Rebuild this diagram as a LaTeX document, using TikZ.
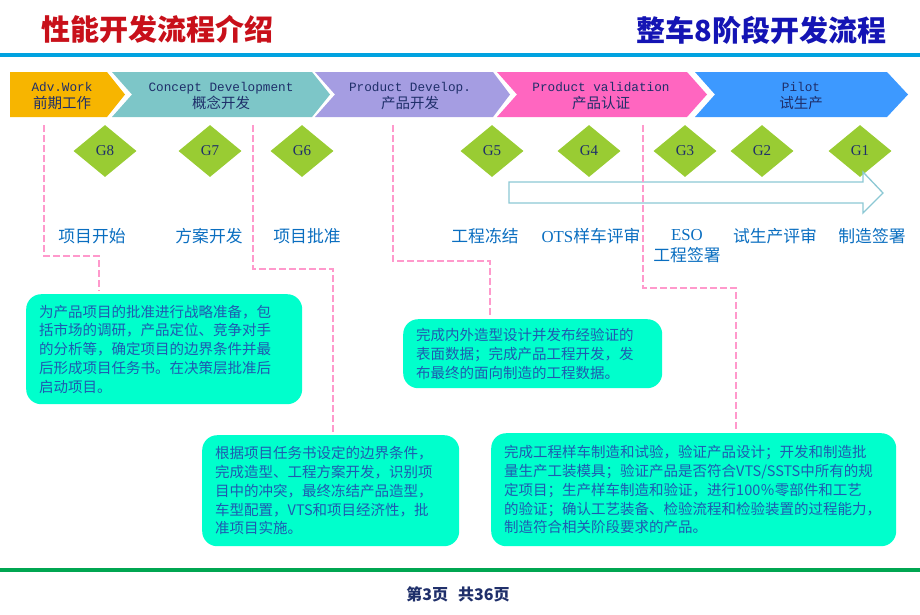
\documentclass[tikz,border=0pt]{standalone}
\usepackage{fontspec}
\setmainfont{Liberation Serif}
\setmonofont{Liberation Mono}
\newfontfamily\cjk{Noto Sans CJK SC}
\usetikzlibrary{shapes.geometric}

\definecolor{titlered}{HTML}{C8101A}
\definecolor{titleblue}{HTML}{1414B4}
\definecolor{lineblue}{HTML}{00A2E0}
\definecolor{linegreen}{HTML}{00A651}
\definecolor{advorange}{HTML}{F7B500}
\definecolor{conceptteal}{HTML}{7DC6C8}
\definecolor{devlilac}{HTML}{A59DE2}
\definecolor{validpink}{HTML}{FF66C0}
\definecolor{pilotblue}{HTML}{3D99FF}
\definecolor{gategreen}{HTML}{99CC33}
\definecolor{navy}{HTML}{1F2F6A}
\definecolor{mileblue}{HTML}{0A6EC0}
\definecolor{guidepink}{HTML}{FF99CC}
\definecolor{boxcyan}{HTML}{00FFCC}
\definecolor{boxtext}{HTML}{1F5AB0}
\definecolor{arrowblue}{HTML}{8CC8D4}

\begin{document}
\begin{tikzpicture}[x=1pt,y=-1pt,
  phase/.style={align=center,text=navy,font=\fontsize{12.7}{17.5}\selectfont\ttfamily},
  gate/.style={diamond,fill=gategreen,minimum width=63pt,minimum height=52pt,inner sep=0pt,text=navy,font=\fontsize{15}{15}\selectfont},
  mile/.style={text=mileblue,align=center,font=\fontsize{16.8}{21}\selectfont\cjk},
  guide/.style={draw=guidepink,line width=2.5pt,dash pattern=on 7pt off 3pt,shorten >=3pt},
  descbox/.style={anchor=north west,fill=boxcyan,rounded corners=15pt,inner xsep=13pt,inner ysep=0pt,align=left,text=boxtext,font=\fontsize{14.5}{18.8}\selectfont\cjk}]
  \useasboundingbox (0,0) rectangle (920,614);

  % titre
  \node[anchor=west,text=titlered,font=\fontsize{29}{29}\selectfont\cjk\bfseries] (title) at (38,29) {性能开发流程介绍};
  \node[anchor=east,text=titleblue,font=\fontsize{29}{29}\selectfont\cjk\bfseries] (stage) at (890,30) {整车8阶段开发流程};
  \draw[line width=4.5pt,draw=lineblue] (0,55) -- (920,55);

  % phases
  \fill[advorange] (10,72) -- (107,72) -- (125,94.5) -- (107,117) -- (10,117) -- cycle;
  \fill[conceptteal] (112,72) -- (312,72) -- (330,94.5) -- (312,117) -- (112,117) -- (132,94.5) -- cycle;
  \fill[devlilac] (315,72) -- (493,72) -- (510,94.5) -- (493,117) -- (315,117) -- (335,94.5) -- cycle;
  \fill[validpink] (497,72) -- (687,72) -- (707,94.5) -- (687,117) -- (497,117) -- (517,94.5) -- cycle;
  \fill[pilotblue] (695,72) -- (887,72) -- (908,94.5) -- (887,117) -- (695,117) -- (715,94.5) -- cycle;
  \node[phase] (ph1) at (62,96) {Adv.Work\\{\cjk\fontsize{14.5}{17.5}\selectfont 前期工作}};
  \node[phase] (ph2) at (221,96) {Concept Development\\{\cjk\fontsize{14.5}{17.5}\selectfont 概念开发}};
  \node[phase] (ph3) at (410,96) {Product Develop.\\{\cjk\fontsize{14.5}{17.5}\selectfont 产品开发}};
  \node[phase] (ph4) at (601,96) {Product validation\\{\cjk\fontsize{14.5}{17.5}\selectfont 产品认证}};
  \node[phase] (ph5) at (801,96) {Pilot\\{\cjk\fontsize{14.5}{17.5}\selectfont 试生产}};

  % gates
  \foreach \x/\g in {105/8,210/7,302/6,492/5,589/4,685/3,762/2,860/1}
    \node[gate] (g\g) at (\x,151) {G\g};
  \draw[draw=arrowblue,line width=1.3pt] (509,182) -- (863,182) -- (863,172) -- (883,193) -- (863,213) -- (863,203) -- (509,203) -- cycle;

  \node[mile] (m8) at (92,236) {项目开始};
  \node[mile] (m7) at (209,236) {方案开发};
  \node[mile] (m6) at (307,236) {项目批准};
  \node[mile] (m5) at (485,236) {工程冻结};
  \node[mile] (m4) at (591,236) {{\rmfamily OTS}样车评审};
  \node[mile] (m3) at (687,246.5) {{\rmfamily ESO}\\工程签署};
  \node[mile] (m2) at (775,236) {试生产评审};
  \node[mile] (m1) at (872,236) {制造签署};

  % boites
  \node[descbox,minimum width=276pt,minimum height=110pt,text width=250pt] (box1) at (26,294)
    {为产品项目的批准进行战略准备，包\\括市场的调研，产品定位、竞争对手\\的分析等，确定项目的边界条件并最\\后形成项目任务书。在决策层批准后\\启动项目。};
  \node[descbox,minimum width=257pt,minimum height=111pt,text width=231pt] (box2) at (202,435)
    {根据项目任务书设定的边界条件，\\完成造型、工程方案开发，识别项\\目中的冲突，最终冻结产品造型，\\车型配置，VTS和项目经济性，批\\准项目实施。};
  \node[descbox,minimum width=259pt,minimum height=69pt,text width=233pt] (box3) at (403,319)
    {完成内外造型设计并发布经验证的\\表面数据；完成产品工程开发，发\\布最终的面向制造的工程数据。};
  \node[descbox,minimum width=405pt,minimum height=113pt,text width=379pt] (box4) at (491,433)
    {完成工程样车制造和试验，验证产品设计；开发和制造批\\量生产工装模具；验证产品是否符合VTS/SSTS中所有的规\\定项目；生产样车制造和验证，进行100％零部件和工艺\\的验证；确认工艺装备、检验流程和检验装置的过程能力，\\制造符合相关阶段要求的产品。};

  % liens
  \coordinate (t1) at (44,125);  \coordinate (k1) at (99,256);
  \coordinate (t2) at (253,125); \coordinate (k2) at (333,269);
  \coordinate (t3) at (393,125); \coordinate (k3) at (490,261);
  \coordinate (t4) at (643,125); \coordinate (k4) at (736,288);
  \draw[guide] (t1) |- (k1) -- (k1 |- box1.north);
  \draw[guide] (t2) |- (k2) -- (k2 |- box2.north);
  \draw[guide] (t3) |- (k3) -- (k3 |- box3.north);
  \draw[guide] (t4) |- (k4) -- (k4 |- box4.north);

  % pied
  \draw[line width=4.5pt,draw=linegreen] (0,570) -- (920,570);
  \node[text=navy,font=\fontsize{16}{16}\selectfont\cjk\bfseries] (page) at (458,594) {第3页\hspace{10pt}共36页};
\end{tikzpicture}
\end{document}
